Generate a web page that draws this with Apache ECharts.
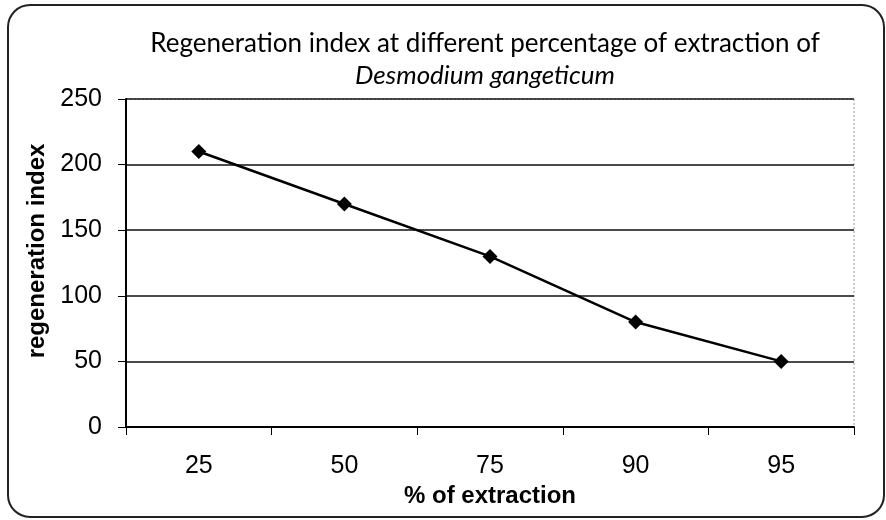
<!DOCTYPE html>
<html>
<head>
<meta charset="utf-8">
<script src="https://cdn.jsdelivr.net/npm/echarts@6/dist/echarts.min.js"></script>
<style>
html, body { margin: 0; padding: 0; background: #fff; }
#chart { width: 886px; height: 520px; }
</style>
</head>
<body>
<div id="chart"></div>
<script>
// data
var categories = ['25', '50', '75', '90', '95'];
var regenIndex = [210, 170, 130, 80, 50];
var yTicks = { min: 0, max: 250, interval: 50 };

var chart = echarts.init(document.getElementById('chart'), null, { renderer: 'canvas' });

var option = {
    backgroundColor: '#ffffff',
    animation: false,
    title: {
        text: 'Regeneration index at different percentage of extraction of\n{it|Desmodium gangeticum}',
        left: 480,
        textAlign: 'center',
        top: 23,
        textStyle: {
            fontFamily: 'Lato',
            fontSize: 26,
            fontWeight: 'normal',
            color: '#000',
            lineHeight: 32,
            rich: {
                it: { fontFamily: 'Lato', fontSize: 26, fontStyle: 'italic', color: '#000', lineHeight: 32 }
            }
        }
    },
    graphic: [{
        type: 'rect',
        shape: { x: 8, y: 5, width: 876, height: 512, r: 22 },
        style: { fill: 'none', stroke: '#222', lineWidth: 2 },
        silent: true
    }, {
        type: 'rect',
        shape: { x: 126, y: 99, width: 728, height: 328 },
        style: { fill: 'none', stroke: '#999', lineWidth: 1, lineDash: [2, 2] },
        silent: true,
        z: 0
    }],
    grid: { left: 126, right: 32, top: 99, bottom: 93, containLabel: false },
    xAxis: {
        type: 'category',
        data: categories,
        boundaryGap: true,
        name: '% of extraction',
        nameLocation: 'middle',
        nameGap: 54,
        nameTextStyle: { fontFamily: 'Liberation Sans', fontSize: 24, fontWeight: 'bold', color: '#000' },
        axisLine: { show: true, lineStyle: { color: '#000', width: 2 } },
        axisTick: { show: true, inside: false, length: 8, lineStyle: { color: '#000', width: 1 } },
        axisLabel: { fontFamily: 'Liberation Sans', fontSize: 25, color: '#000', margin: 27 },
        splitLine: { show: false }
    },
    yAxis: {
        type: 'value',
        min: yTicks.min,
        max: yTicks.max,
        interval: yTicks.interval,
        name: 'regeneration index',
        nameLocation: 'middle',
        nameGap: 72,
        nameTextStyle: { fontFamily: 'Liberation Sans', fontSize: 24, fontWeight: 'bold', color: '#000', padding: [0, 0, 0, 24] },
        axisLine: { show: true, lineStyle: { color: '#000', width: 2 } },
        axisTick: { show: true, length: 8, lineStyle: { color: '#000', width: 1 } },
        axisLabel: { fontFamily: 'Liberation Sans', fontSize: 25, color: '#000', margin: 24 },
        splitLine: { show: true, lineStyle: { color: '#111', width: 1.5 } }
    },
    series: [{
        type: 'line',
        data: regenIndex,
        symbol: 'diamond',
        symbolSize: 15,
        lineStyle: { color: '#000', width: 2.5 },
        itemStyle: { color: '#000' }
    }]
};

chart.setOption(option);
</script>
</body>
</html>
